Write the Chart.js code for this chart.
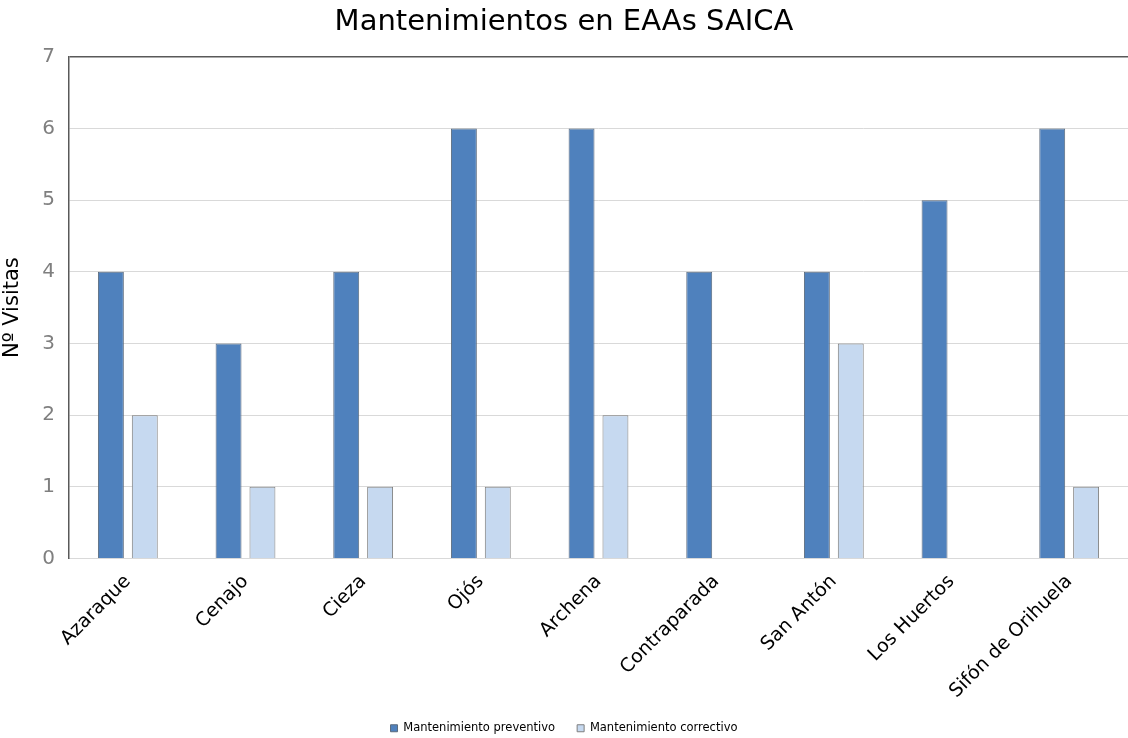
<!DOCTYPE html>
<html>
<head>
<meta charset="utf-8">
<script src="https://cdn.jsdelivr.net/npm/chart.js@4.4.0/dist/chart.umd.min.js"></script>
<style>
  html, body { margin: 0; padding: 0; background: #fff; }
  #wrap { width: 1128px; height: 738px; position: relative; }
</style>
</head>
<body>
<div id="wrap"><canvas id="grafico"></canvas></div>
<script>
// Datos del gráfico
const estaciones = ['Azaraque', 'Cenajo', 'Cieza', 'Ojós', 'Archena', 'Contraparada', 'San Antón', 'Los Huertos', 'Sifón de Orihuela'];
const preventivo = [4, 3, 4, 6, 6, 4, 4, 5, 6];
const correctivo = [2, 1, 1, 1, 2, 0, 3, 0, 1];
const ticksY = [0, 1, 2, 3, 4, 5, 6, 7];

const fuente = 'DejaVu Sans, Verdana, sans-serif';

new Chart(document.getElementById('grafico'), {
  type: 'bar',
  data: {
    labels: estaciones,
    datasets: [
      {
        label: 'Mantenimiento preventivo',
        data: preventivo,
        backgroundColor: '#4F81BD',
        borderColor: '#5b6b7e',
        borderWidth: 1,
        barPercentage: 0.765,
        categoryPercentage: 0.576
      },
      {
        label: 'Mantenimiento correctivo',
        data: correctivo.map(v => v === 0 ? null : v),
        backgroundColor: '#C6D9F0',
        borderColor: '#7f7f7f',
        borderWidth: 1,
        barPercentage: 0.765,
        categoryPercentage: 0.576
      }
    ]
  },
  options: {
    responsive: true,
    maintainAspectRatio: false,
    animation: false,
    layout: { padding: { left: 0, right: 0, top: 0, bottom: -6 } },
    plugins: {
      title: {
        display: true,
        text: 'Mantenimientos en EAAs SAICA',
        color: '#000',
        font: { family: fuente, size: 29, weight: 'normal' },
        padding: { top: 5, bottom: 17 }
      },
      legend: {
        position: 'bottom',
        labels: {
          color: '#000',
          font: { family: fuente, size: 11.5 },
          boxWidth: 7,
          boxHeight: 7,
          padding: 22
        }
      },
      tooltip: { enabled: false }
    },
    scales: {
      x: {
        grid: { display: false },
        border: { color: '#d9d9d9' },
        ticks: {
          color: '#000',
          font: { family: fuente, size: 19 },
          maxRotation: 45,
          minRotation: 45,
          padding: 4
        },
        afterFit: function(scale) { scale.height = 142; }
      },
      y: {
        min: 0,
        max: 7,
        afterBuildTicks: function(scale) { scale.ticks = ticksY.map(v => ({ value: v })); },
        grid: {
          color: ctx => ctx.tick && ctx.tick.value === 7 ? '#595959' : '#d9d9d9',
          lineWidth: ctx => ctx.tick && ctx.tick.value === 7 ? 1.5 : 1,
          drawTicks: false
        },
        border: { color: '#595959', width: 1.5 },
        ticks: {
          color: '#7f7f7f',
          font: { family: fuente, size: 20 },
          padding: 14
        },
        title: {
          display: true,
          text: 'Nº Visitas',
          color: '#000',
          font: { family: fuente, size: 21 },
          padding: { top: 0, bottom: 8 }
        },
        afterFit: function(scale) { scale.width = 69; }
      }
    }
  }
});
</script>
</body>
</html>
